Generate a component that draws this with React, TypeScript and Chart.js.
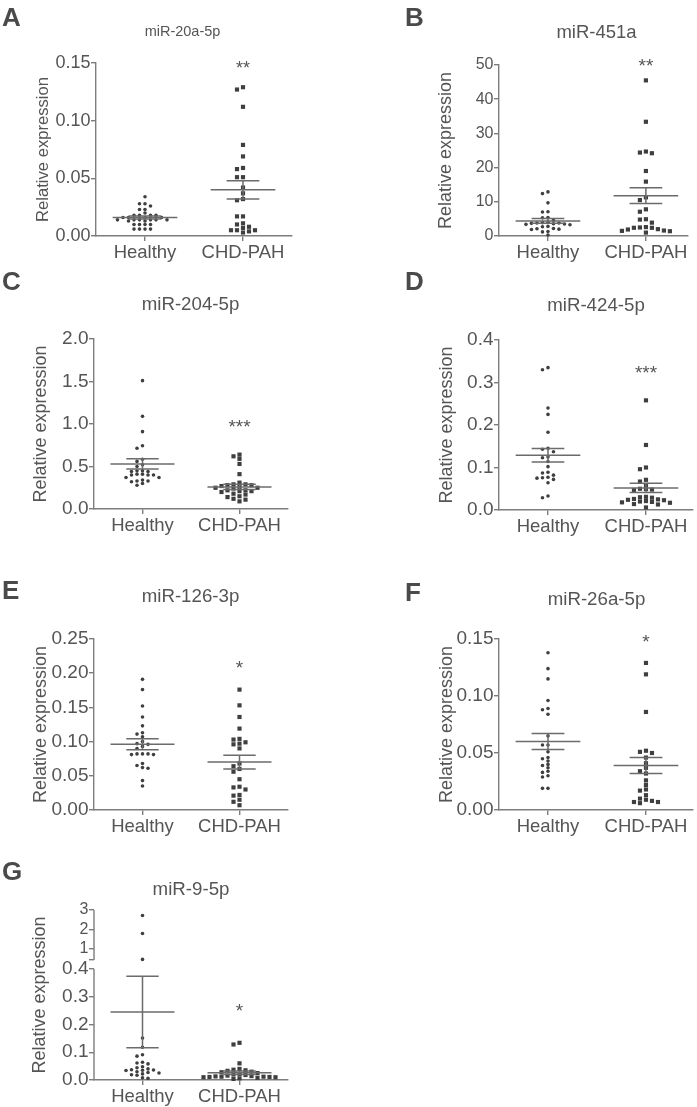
import React, { useEffect, useRef } from "react";
import { Chart, registerables, LinearScale } from "chart.js";

Chart.register(...registerables);

const FONT = "'Liberation Sans', Arial, Helvetica, sans-serif";
const TEXT = "#555555";
const AXIS = "#7d7d7d";
const DOT = "#3f3f3f";
const BAR = "#6b6b6b";

const categories = ["Healthy", "CHD-PAH"];
const yAxisTitle = "Relative expression";

// ---------- Panel A: miR-20a-5p ----------
const aHealthy = [0.034, 0.028, 0.028, 0.026, 0.023, 0.023, 0.020, 0.018, 0.018, 0.018, 0.018, 0.016, 0.016, 0.016, 0.016, 0.014, 0.014, 0.014, 0.014, 0.014, 0.014, 0.013, 0.013, 0.010, 0.010, 0.010, 0.010, 0.006, 0.006, 0.006, 0.006];
const aCHD = [0.129, 0.127, 0.112, 0.079, 0.069, 0.059, 0.058, 0.051, 0.051, 0.042, 0.037, 0.032, 0.031, 0.017, 0.017, 0.011, 0.010, 0.008, 0.007, 0.005, 0.005, 0.005, 0.004, 0.003];
const aMean = [0.016, 0.040];
const aSem = [0.0013, 0.008];
const aTicks = [0, 0.05, 0.1, 0.15];

// ---------- Panel B: miR-451a ----------
const bHealthy = [12.9, 12.4, 9.7, 7.1, 7.0, 5.4, 5.3, 4.6, 4.0, 3.9, 3.8, 3.8, 3.7, 3.6, 3.5, 3.4, 3.3, 2.8, 2.7, 2.2, 2.1, 2.0, 1.9, 1.3, 1.2, 0.3];
const bCHD = [45.5, 33.4, 24.7, 24.4, 24.2, 19.0, 15.9, 11.3, 10.5, 7.8, 7.1, 4.9, 4.8, 3.9, 2.6, 2.5, 2.4, 2.4, 2.0, 1.9, 1.6, 1.5, 1.4, 1.0];
const bMean = [4.4, 11.8];
const bSem = [0.7, 2.3];
const bTicks = [0, 10, 20, 30, 40, 50];

// ---------- Panel C: miR-204-5p ----------
const cHealthy = [1.51, 1.09, 0.91, 0.745, 0.715, 0.585, 0.56, 0.52, 0.50, 0.45, 0.45, 0.44, 0.44, 0.41, 0.41, 0.40, 0.40, 0.40, 0.37, 0.37, 0.34, 0.33, 0.33, 0.32, 0.30, 0.28];
const cCHD = [0.64, 0.62, 0.59, 0.53, 0.41, 0.31, 0.29, 0.29, 0.28, 0.28, 0.27, 0.26, 0.25, 0.25, 0.24, 0.22, 0.22, 0.21, 0.21, 0.20, 0.18, 0.17, 0.15, 0.14, 0.12, 0.11, 0.09];
const cMean = [0.53, 0.26];
const cSem = [0.06, 0.03];
const cTicks = [0, 0.5, 1.0, 1.5, 2.0];

// ---------- Panel D: miR-424-5p ----------
const dHealthy = [0.335, 0.330, 0.240, 0.225, 0.183, 0.145, 0.143, 0.137, 0.125, 0.123, 0.114, 0.102, 0.089, 0.087, 0.082, 0.077, 0.076, 0.075, 0.072, 0.064, 0.033, 0.029];
const dCHD = [0.258, 0.153, 0.100, 0.096, 0.071, 0.067, 0.059, 0.050, 0.049, 0.048, 0.047, 0.031, 0.030, 0.029, 0.026, 0.025, 0.024, 0.023, 0.021, 0.020, 0.019, 0.018, 0.017, 0.014, 0.013, 0.006];
const dMean = [0.129, 0.052];
const dSem = [0.016, 0.011];
const dTicks = [0, 0.1, 0.2, 0.3, 0.4];

// ---------- Panel E: miR-126-3p ----------
const eHealthy = [0.191, 0.176, 0.152, 0.136, 0.123, 0.113, 0.111, 0.107, 0.100, 0.097, 0.096, 0.093, 0.090, 0.082, 0.082, 0.082, 0.081, 0.081, 0.068, 0.065, 0.062, 0.061, 0.043, 0.035];
const eCHD = [0.176, 0.153, 0.136, 0.119, 0.104, 0.103, 0.099, 0.097, 0.096, 0.090, 0.068, 0.064, 0.060, 0.056, 0.045, 0.034, 0.033, 0.030, 0.022, 0.021, 0.015, 0.012, 0.007];
const eMean = [0.096, 0.070];
const eSem = [0.008, 0.010];
const eTicks = [0, 0.05, 0.1, 0.15, 0.2, 0.25];

// ---------- Panel F: miR-26a-5p ----------
const fHealthy = [0.138, 0.124, 0.115, 0.096, 0.089, 0.088, 0.084, 0.065, 0.057, 0.057, 0.051, 0.046, 0.045, 0.043, 0.040, 0.039, 0.037, 0.034, 0.033, 0.030, 0.029, 0.019, 0.019];
const fCHD = [0.129, 0.119, 0.086, 0.052, 0.051, 0.050, 0.046, 0.041, 0.037, 0.034, 0.032, 0.026, 0.022, 0.018, 0.017, 0.013, 0.010, 0.009, 0.008, 0.007, 0.007, 0.006];
const fMean = [0.060, 0.039];
const fSem = [0.007, 0.007];
const fTicks = [0, 0.05, 0.1, 0.15];

// ---------- Panel G: miR-9-5p (broken axis) ----------
const gHealthy = [2.72, 1.80, 0.47, 0.151, 0.118, 0.091, 0.086, 0.064, 0.061, 0.058, 0.048, 0.044, 0.040, 0.037, 0.036, 0.035, 0.034, 0.030, 0.027, 0.025, 0.022, 0.019, 0.017, 0.008, 0.006];
const gCHD = [0.134, 0.128, 0.060, 0.040, 0.037, 0.035, 0.033, 0.030, 0.028, 0.025, 0.022, 0.020, 0.018, 0.016, 0.014, 0.013, 0.012, 0.012, 0.011, 0.011, 0.010, 0.010, 0.008, 0.006, 0.004];
const gMean = [0.245, 0.026];
const gSem = [0.129, 0.006];
const gTicks = [0, 0.1, 0.2, 0.3, 0.4, 0.44, 1, 2, 3];

const titles = ["miR-20a-5p", "miR-451a", "miR-204-5p", "miR-424-5p", "miR-126-3p", "miR-26a-5p", "miR-9-5p"];
const letters = ["A", "B", "C", "D", "E", "F", "G"];
const stars = ["**", "**", "***", "***", "*", "*", "*"];
const starValues = [0.148, 50.7, 1.0, 0.329, 0.213, 0.150, 0.26];

// broken axis definition for panel G
const G_BREAK_LOW = 0.4;
const G_BREAK_HIGH = 0.44;
const G_TOP = 3;
const G_LOWER_FRAC = 111 / 170;
const G_UPPER_FRAC = 50 / 170;

class BrokenLinearScale extends LinearScale {
  static id = "brokenLinear";
  getPixelForValue(value: any) {
    const v = Number(value);
    const bottom = (this as any).bottom;
    const top = (this as any).top;
    const h = bottom - top;
    const lowH = h * G_LOWER_FRAC;
    const upH = h * G_UPPER_FRAC;
    if (v <= G_BREAK_LOW) return bottom - (v / G_BREAK_LOW) * lowH;
    if (v >= G_BREAK_HIGH) return top + ((G_TOP - v) / (G_TOP - G_BREAK_HIGH)) * upH;
    const gap = h - lowH - upH;
    return bottom - lowH - ((v - G_BREAK_LOW) / (G_BREAK_HIGH - G_BREAK_LOW)) * gap;
  }
  getValueForPixel(pixel: number) {
    const bottom = (this as any).bottom;
    const top = (this as any).top;
    const h = bottom - top;
    const lowH = h * G_LOWER_FRAC;
    const upH = h * G_UPPER_FRAC;
    if (pixel >= bottom - lowH) return ((bottom - pixel) / lowH) * G_BREAK_LOW;
    if (pixel <= top + upH) return G_TOP - ((pixel - top) / upH) * (G_TOP - G_BREAK_HIGH);
    const gap = h - lowH - upH;
    return G_BREAK_LOW + ((bottom - lowH - pixel) / gap) * (G_BREAK_HIGH - G_BREAK_LOW);
  }
}
Chart.register(BrokenLinearScale as any);

type Panel = {
  idx: number;
  healthy: number[];
  chd: number[];
  mean: number[];
  sem: number[];
  yTicks: number[];
  yMax: number;
  decimals: number;
  broken?: boolean;
  left: number;
  axisX: number;
  plotTop: number;
  plotBottom: number;
  plotRight: number;
  xMax: number;
  titleCx: number;
  titleCy: number;
  yTitleCx: number;
  titleSize: number;
  yTitleSize: number;
  tickSize: number;
  starSize: number;
  letterX: number;
  letterY: number;
};

const panels: Panel[] = [
  { idx: 0, healthy: aHealthy, chd: aCHD, mean: aMean, sem: aSem, yTicks: aTicks, yMax: 0.15, decimals: 2,
    left: 0, axisX: 96, plotTop: 63, plotBottom: 236, plotRight: 292, xMax: 2.5, titleCx: 182.5, titleCy: 31.5, yTitleCx: 43.5,
    titleSize: 14.5, yTitleSize: 16.6, tickSize: 18, starSize: 18, letterX: 2, letterY: 4 },
  { idx: 1, healthy: bHealthy, chd: bCHD, mean: bMean, sem: bSem, yTicks: bTicks, yMax: 50, decimals: 0,
    left: 400, axisX: 499, plotTop: 65, plotBottom: 236, plotRight: 688, xMax: 2.43, titleCx: 596.7, titleCy: 33, yTitleCx: 445.8,
    titleSize: 18.5, yTitleSize: 18, tickSize: 16, starSize: 19, letterX: 405, letterY: 4 },
  { idx: 2, healthy: cHealthy, chd: cCHD, mean: cMean, sem: cSem, yTicks: cTicks, yMax: 2.0, decimals: 1,
    left: 0, axisX: 94, plotTop: 339, plotBottom: 509, plotRight: 288, xMax: 2.5, titleCx: 190.5, titleCy: 305, yTitleCx: 40.8,
    titleSize: 18.7, yTitleSize: 18, tickSize: 19, starSize: 19, letterX: 2, letterY: 268 },
  { idx: 3, healthy: dHealthy, chd: dCHD, mean: dMean, sem: dSem, yTicks: dTicks, yMax: 0.4, decimals: 1,
    left: 400, axisX: 499, plotTop: 340, plotBottom: 510, plotRight: 693, xMax: 2.48, titleCx: 595.8, titleCy: 306, yTitleCx: 446.7,
    titleSize: 18.7, yTitleSize: 18, tickSize: 19, starSize: 19, letterX: 405, letterY: 268 },
  { idx: 4, healthy: eHealthy, chd: eCHD, mean: eMean, sem: eSem, yTicks: eTicks, yMax: 0.25, decimals: 2,
    left: 0, axisX: 94, plotTop: 639, plotBottom: 810, plotRight: 288, xMax: 2.5, titleCx: 190.5, titleCy: 597, yTitleCx: 40.8,
    titleSize: 18.7, yTitleSize: 18, tickSize: 19, starSize: 19, letterX: 2, letterY: 577 },
  { idx: 5, healthy: fHealthy, chd: fCHD, mean: fMean, sem: fSem, yTicks: fTicks, yMax: 0.15, decimals: 2,
    left: 400, axisX: 499, plotTop: 639, plotBottom: 810, plotRight: 693, xMax: 2.48, titleCx: 596.3, titleCy: 600, yTitleCx: 446.7,
    titleSize: 18.7, yTitleSize: 18, tickSize: 19, starSize: 19, letterX: 405, letterY: 579 },
  { idx: 6, healthy: gHealthy, chd: gCHD, mean: gMean, sem: gSem, yTicks: gTicks, yMax: G_TOP, decimals: 1, broken: true,
    left: 0, axisX: 94, plotTop: 910, plotBottom: 1080, plotRight: 288, xMax: 2.5, titleCx: 190.8, titleCy: 890, yTitleCx: 40,
    titleSize: 18.7, yTitleSize: 18, tickSize: 19, starSize: 19, letterX: 2, letterY: 858 },
];

const XH = 40;
const MEAN_HALF = 0.33;
const CAP_HALF = 0.167;

function formatTick(p: Panel, v: number) {
  if (p.broken) {
    if (v > G_BREAK_LOW && v < 1) return "";
    return v <= G_BREAK_LOW ? v.toFixed(1) : String(v);
  }
  return v.toFixed(p.decimals);
}

function PanelChart({ p }: { p: Panel }) {
  const ref = useRef<HTMLCanvasElement>(null);
  const lhT = p.titleSize * 1.2;
  const tp = 2;
  const T = Math.round(p.titleCy - tp - lhT / 2);
  const tb = p.plotTop - T - tp - lhT;
  const H = p.plotBottom - T + XH;
  // canvas is centred on the reference title; an empty right-hand box fills the space right of the plot
  const W = Math.round(2 * (p.titleCx - p.left));
  const spacerW = W - (p.plotRight - p.left);
  const yW = p.axisX - p.left;
  const yTitlePad = p.yTitleCx - p.left - (p.yTitleSize * 1.2) / 2;

  useEffect(() => {
    if (!ref.current) return;
    const base = { showLine: true, borderColor: BAR, backgroundColor: BAR, borderWidth: 1.5, pointRadius: 0, clip: false as any, order: 0 };
    const errSets = [0, 1].flatMap((i) => {
      const c = i + 1;
      const m = p.mean[i];
      const s = p.sem[i];
      return [
        { ...base, data: [{ x: c - MEAN_HALF, y: m }, { x: c + MEAN_HALF, y: m }] },
        { ...base, data: [{ x: c - CAP_HALF, y: m + s }, { x: c + CAP_HALF, y: m + s }] },
        { ...base, data: [{ x: c - CAP_HALF, y: m - s }, { x: c + CAP_HALF, y: m - s }] },
        { ...base, data: [{ x: c, y: m - s }, { x: c, y: m + s }] },
      ];
    });
    const pointSets: any[] = [
      { data: p.healthy.map((v) => ({ x: 1, y: v })), pointStyle: "circle", pointRadius: 1.8, backgroundColor: DOT, borderColor: DOT, borderWidth: 0, showLine: false, clip: false, order: 1 },
      { data: p.chd.map((v) => ({ x: 2, y: v })), pointStyle: "rect", pointRadius: 2.95, backgroundColor: DOT, borderColor: DOT, borderWidth: 0, showLine: false, clip: false, order: 1 },
    ];

    const starPlugin = {
      id: "stars" + p.idx,
      afterDatasetsDraw(chart: any) {
        const { ctx } = chart;
        const xs = chart.scales.x;
        const ys = chart.scales.y;
        ctx.save();
        ctx.font = `${p.starSize}px ${FONT}`;
        ctx.fillStyle = TEXT;
        ctx.textAlign = "center";
        ctx.textBaseline = "middle";
        ctx.fillText(stars[p.idx], xs.getPixelForValue(2), ys.getPixelForValue(starValues[p.idx]) + 0.21 * p.starSize);
        ctx.restore();
      },
    };
    const breakPlugin = {
      id: "axisBreak" + p.idx,
      afterDraw(chart: any) {
        if (!p.broken) return;
        const { ctx, chartArea } = chart;
        const ys = chart.scales.y;
        const x0 = chartArea.left;
        ctx.save();
        ctx.strokeStyle = AXIS;
        ctx.lineWidth = 1.4;
        ctx.beginPath();
        ctx.moveTo(x0, ys.getPixelForValue(G_TOP));
        ctx.lineTo(x0, ys.getPixelForValue(G_BREAK_HIGH));
        ctx.moveTo(x0, ys.getPixelForValue(G_BREAK_LOW));
        ctx.lineTo(x0, ys.getPixelForValue(0));
        ctx.stroke();
        ctx.restore();
      },
    };

    const chart = new Chart(ref.current, {
      type: "scatter",
      data: { datasets: [...pointSets, ...errSets] as any },
      options: {
        responsive: false,
        animation: false,
        events: [],
        layout: { padding: 0 },
        plugins: {
          legend: { display: false },
          tooltip: { enabled: false },
          title: {
            display: true,
            text: titles[p.idx],
            color: TEXT,
            font: { size: p.titleSize, family: FONT, weight: "normal" as any },
            padding: { top: tp, bottom: tb },
            fullSize: true,
            align: "center",
          },
        },
        scales: {
          x: {
            type: "linear",
            min: 0.5,
            max: p.xMax,
            afterBuildTicks: (s: any) => {
              s.ticks = [{ value: 1 }, { value: 2 }];
            },
            afterFit: (s: any) => {
              s.height = XH;
            },
            ticks: {
              autoSkip: false,
              maxRotation: 0,
              color: TEXT,
              padding: 3,
              font: { size: 18.5, family: FONT, lineHeight: 1 },
              callback: (v: any) => categories[Number(v) - 1] ?? "",
            },
            grid: { display: true, drawOnChartArea: false, drawTicks: true, tickLength: 5, color: AXIS, lineWidth: 1.4 },
            border: { display: true, color: AXIS, width: 1.4 },
          },
          y: {
            type: (p.broken ? "brokenLinear" : "linear") as any,
            min: 0,
            max: p.yMax,
            afterBuildTicks: (s: any) => {
              s.ticks = p.yTicks.map((v) => ({ value: v }));
            },
            afterFit: (s: any) => {
              s.width = yW;
            },
            ticks: {
              autoSkip: false,
              color: TEXT,
              padding: 0.5,
              font: (ctx: any) => ({
                size: p.broken && ctx.tick && ctx.tick.value >= 1 ? 16 : p.tickSize,
                family: FONT,
              }),
              callback: (v: any) => formatTick(p, Number(v)),
            },
            grid: { display: true, drawOnChartArea: false, drawTicks: true, tickLength: 5, color: AXIS, lineWidth: 1.4 },
            border: { display: !p.broken, color: AXIS, width: 1.4 },
            title: {
              display: true,
              text: yAxisTitle,
              color: TEXT,
              font: { size: p.yTitleSize, family: FONT },
              padding: { top: yTitlePad, bottom: 0 },
            },
          } as any,
          spacer: {
            type: "linear",
            axis: "y",
            position: "right",
            display: true,
            ticks: { display: false },
            grid: { display: false, drawTicks: false },
            border: { display: false },
            title: { display: false },
            afterFit: (s: any) => {
              s.width = spacerW;
            },
          } as any,
        },
      } as any,
      plugins: [starPlugin, breakPlugin],
    });

    // beeswarm-style horizontal spreading of points that share a value level
    const xs: any = chart.scales.x;
    const ys: any = chart.scales.y;
    [0, 1].forEach((gi) => {
      const vals = gi === 0 ? p.healthy : p.chd;
      const step = gi === 0 ? 5.5 : 6;
      const dy = gi === 0 ? 3.4 : 4.2;
      const cx = xs.getPixelForValue(gi + 1);
      const placed: { x: number; y: number }[] = [];
      const data = vals.map((v) => {
        const py = ys.getPixelForValue(v);
        let dx = 0;
        for (let k = 0; k < 60; k++) {
          const off = (k % 2 === 1 ? -1 : 1) * Math.ceil(k / 2) * step;
          if (placed.every((q) => Math.abs(q.y - py) >= dy || Math.abs(q.x - off) >= step * 0.9)) {
            dx = off;
            break;
          }
        }
        placed.push({ x: dx, y: py });
        return { x: xs.getValueForPixel(cx + dx), y: v };
      });
      (chart.data.datasets[gi] as any).data = data;
    });
    chart.update();

    return () => chart.destroy();
  }, []);

  return (
    <canvas
      ref={ref}
      width={W}
      height={H}
      style={{ position: "absolute", left: p.left, top: T, width: W, height: H }}
    />
  );
}

export default function App() {
  return (
    <div style={{ position: "relative", width: 697, height: 1107, overflow: "hidden", background: "#ffffff" }}>
      <style>{"body{margin:0;}"}</style>
      {panels.map((p) => (
        <PanelChart key={p.idx} p={p} />
      ))}
      {panels.map((p) => (
        <div
          key={"l" + p.idx}
          style={{
            position: "absolute",
            left: p.letterX,
            top: p.letterY,
            font: `bold 26px ${FONT}`,
            lineHeight: "26px",
            color: "#4a4a4a",
          }}
        >
          {letters[p.idx]}
        </div>
      ))}
    </div>
  );
}
